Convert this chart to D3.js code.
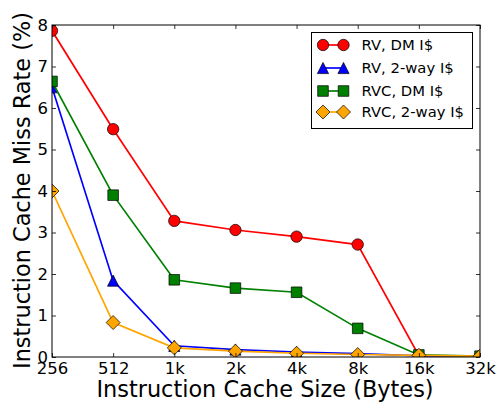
<!DOCTYPE html>
<html><head><meta charset="utf-8">
<script src="https://cdn.jsdelivr.net/npm/d3@7"></script>
<style>body{margin:0;background:#fff}svg{display:block}text{font-family:"DejaVu Sans",sans-serif}</style>
</head><body><svg id="c" width="499" height="404"></svg>
<script>
const categories = ["256","512","1k","2k","4k","8k","16k","32k"];
const yTicks = [0,1,2,3,4,5,6,7,8];
const seriesNames = ["RV, DM I$","RV, 2-way I$","RVC, DM I$","RVC, 2-way I$"];
const rvDM     = [7.86, 5.49, 3.28, 3.06, 2.90, 2.71, 0.03, 0.02];
const rv2way   = [6.50, 1.84, 0.27, 0.18, 0.12, 0.08, 0.03, 0.02];
const rvcDM    = [6.64, 3.90, 1.86, 1.66, 1.56, 0.69, 0.05, 0.02];
const rvc2way  = [4.00, 0.83, 0.22, 0.14, 0.09, 0.06, 0.04, 0.02];
const colors = ["#ff0000","#0000ff","#008000","#ffa500"];

// custom matplotlib-like marker shapes (size = half-extent in px)
const mCircle = {draw(c,r){c.moveTo(r,0);c.arc(0,0,r,0,2*Math.PI);c.closePath();}};
const mTri = {draw(c,r){c.moveTo(0,-r);c.lineTo(r,r);c.lineTo(-r,r);c.closePath();}};
const mSquare = {draw(c,r){c.rect(-r,-r,2*r,2*r);}};
const mDiamond = {draw(c,r){c.moveTo(0,-r);c.lineTo(r,0);c.lineTo(0,r);c.lineTo(-r,0);c.closePath();}};
const symbols = [mCircle, mTri, mSquare, mDiamond];
const symSizes = [5.7, 5.6, 5.3, 7.0];

const svg = d3.select("#c");
const L=52, R=480, T=25, B=357;
const x = d3.scalePoint().domain(categories).range([L,R]);
const y = d3.scaleLinear().domain([0,8]).range([B,T]);

svg.append("defs").append("clipPath").attr("id","clip")
  .append("rect").attr("x",L).attr("y",T).attr("width",R-L).attr("height",B-T);

const data = [rvDM, rv2way, rvcDM, rvc2way];
const g = svg.append("g").attr("clip-path","url(#clip)");
const line = d3.line().x((d,i)=>x(categories[i])).y(d=>y(d));
data.forEach((vals,k)=>{
  g.append("path").attr("d",line(vals)).attr("fill","none").attr("stroke",colors[k]).attr("stroke-width",1.7);
  const sym = d3.symbol().type(symbols[k]).size(symSizes[k]);
  g.selectAll(null).data(vals).enter().append("path")
    .attr("d", sym)
    .attr("transform",(d,i)=>`translate(${x(categories[i])},${y(d)})`)
    .attr("fill",colors[k]).attr("stroke","#000").attr("stroke-width",0.7);
});

svg.append("rect").attr("x",L).attr("y",T).attr("width",R-L).attr("height",B-T)
  .attr("fill","none").attr("stroke","#000").attr("stroke-width",1);

const tl = 4;
const axB = d3.axisBottom(x).tickSizeInner(-tl).tickSizeOuter(0);
const gb = svg.append("g").attr("transform",`translate(0,${B})`).call(axB);
gb.select(".domain").remove();
gb.selectAll("text").attr("font-size",16.5).attr("fill","#000").attr("y",5);
const axT = d3.axisTop(x).tickSizeInner(-tl).tickSizeOuter(0).tickFormat("");
const gt = svg.append("g").attr("transform",`translate(0,${T})`).call(axT);
gt.select(".domain").remove();

const axL = d3.axisLeft(y).tickValues(yTicks).tickFormat(d3.format("d")).tickSizeInner(-tl).tickSizeOuter(0);
const gl = svg.append("g").attr("transform",`translate(${L},0)`).call(axL);
gl.select(".domain").remove();
gl.selectAll("text").attr("font-size",16.5).attr("fill","#000").attr("x",-4);
const axR = d3.axisRight(y).tickValues(yTicks).tickSizeInner(-tl).tickSizeOuter(0).tickFormat("");
const gr = svg.append("g").attr("transform",`translate(${R},0)`).call(axR);
gr.select(".domain").remove();
svg.selectAll(".tick line").attr("stroke","#000").attr("stroke-width",0.8);

svg.append("text").attr("x",265).attr("y",396.5).attr("text-anchor","middle")
  .attr("font-size",22.4).text("Instruction Cache Size (Bytes)");
svg.append("text").attr("transform",`translate(30,${190.5}) rotate(-90)`).attr("text-anchor","middle")
  .attr("font-size",22.4).text("Instruction Cache Miss Rate (%)");

const lg = svg.append("g");
lg.append("rect").attr("x",311.5).attr("y",32.5).attr("width",161).attr("height",96)
  .attr("fill","#fff").attr("stroke","#000").attr("stroke-width",1);
const rows = [45, 68, 91, 112];
seriesNames.forEach((n,k)=>{
  const ry = rows[k];
  lg.append("line").attr("x1",323).attr("x2",343.5).attr("y1",ry).attr("y2",ry)
    .attr("stroke",colors[k]).attr("stroke-width",1.7);
  const sym = d3.symbol().type(symbols[k]).size(symSizes[k]);
  [323,343.5].forEach(px=>{
    lg.append("path").attr("d",sym).attr("transform",`translate(${px},${ry})`)
      .attr("fill",colors[k]).attr("stroke","#000").attr("stroke-width",0.7);
  });
  lg.append("text").attr("x",361.5).attr("y",ry).attr("dy","0.36em").attr("font-size",14.8).text(n);
});
</script></body></html>
